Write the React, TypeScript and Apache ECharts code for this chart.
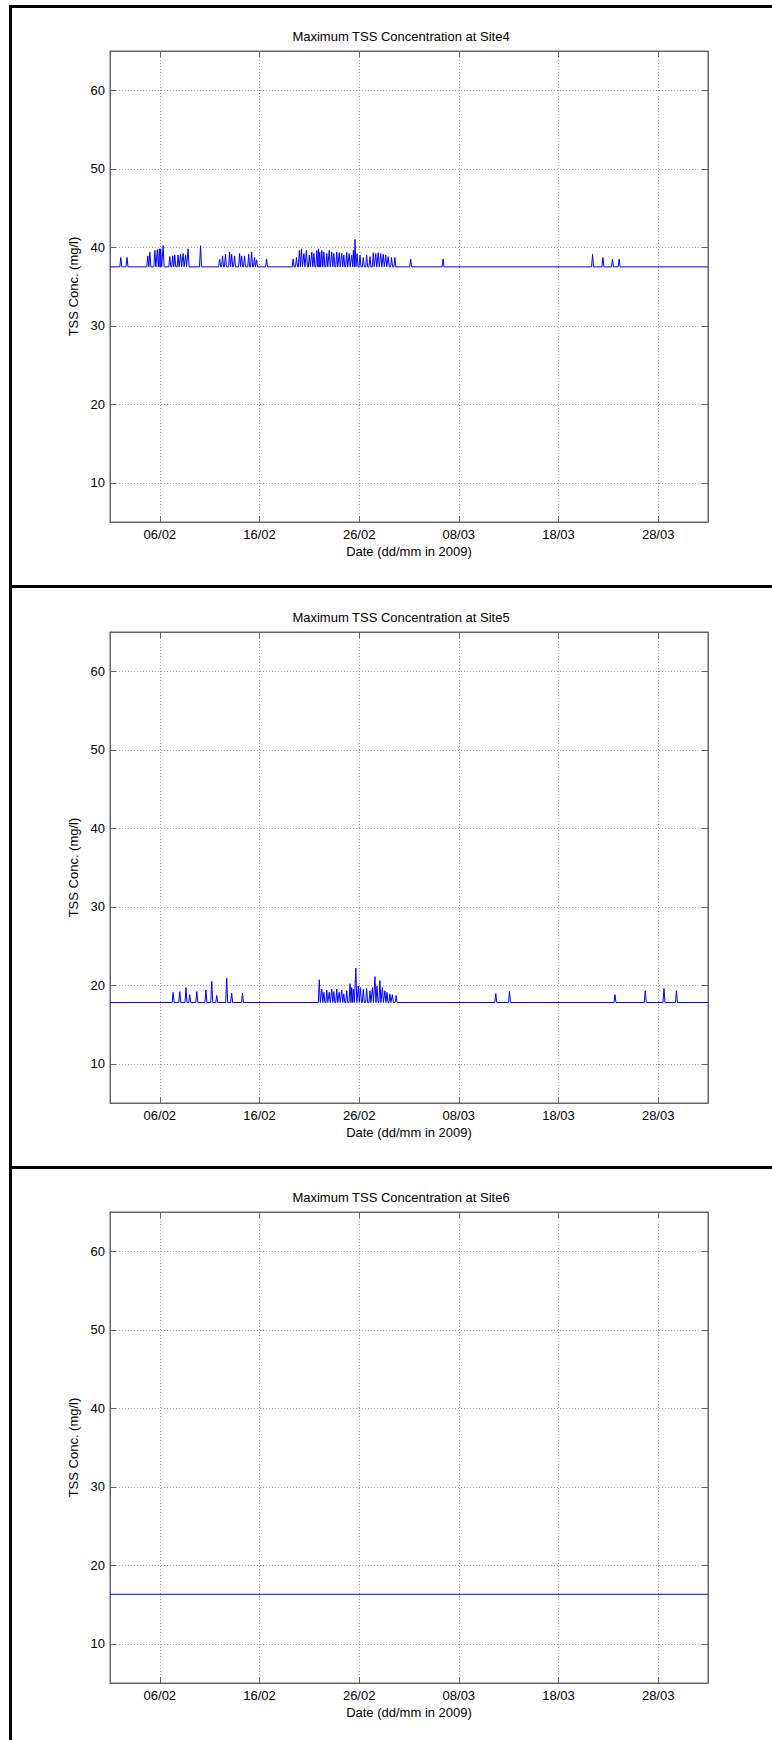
import React, { useEffect, useRef } from "react";
import * as echarts from "echarts";

// x values are days since 01/02/2009 00:00 (axis runs to 02/04/2009)
const X_MIN = 0;
const X_MAX = 60;
const Y_MIN = 5;
const Y_MAX = 65;
const xTickDays = [5, 15, 25, 35, 45, 55];
const xTickLabels = ["06/02", "16/02", "26/02", "08/03", "18/03", "28/03"];
const yTicks = [10, 20, 30, 40, 50, 60];

const titles = [
  "Maximum TSS Concentration at Site4",
  "Maximum TSS Concentration at Site5",
  "Maximum TSS Concentration at Site6",
];
const xAxisName = "Date (dd/mm in 2009)";
const yAxisName = "TSS Conc. (mg/l)";

const baseLevels = [37.5, 17.8, 16.3];

// spike times "dd/mm hh" and peak concentrations
const site4SpikeTimes = [
  "02/02 02", "02/02 17", "04/02 19", "05/02 00", "05/02 12", "05/02 18", "05/02 23", "06/02 02", "06/02 08",
  "07/02 00", "07/02 07", "07/02 12", "07/02 20", "08/02 02", "08/02 08", "08/02 14", "08/02 20", "10/02 02",
  "12/02 00", "12/02 07", "12/02 14", "13/02 00", "13/02 05", "13/02 12", "14/02 00", "14/02 05", "14/02 12",
  "14/02 22", "15/02 05", "15/02 12", "15/02 17", "16/02 17",
  "19/02 09", "19/02 17", "20/02 00", "20/02 05", "20/02 11", "20/02 17", "21/02 00", "21/02 06", "21/02 11",
  "21/02 18", "21/02 22", "22/02 01", "22/02 06", "22/02 11", "22/02 18", "23/02 00", "23/02 06", "23/02 11",
  "23/02 18", "24/02 00", "24/02 06", "24/02 11", "24/02 18", "25/02 00", "25/02 06", "25/02 10", "25/02 14",
  "25/02 19", "26/02 02", "26/02 10", "26/02 18", "27/02 02", "27/02 10", "27/02 16", "27/02 22", "28/02 04",
  "28/02 10", "28/02 16", "28/02 22", "01/03 06", "01/03 14",
  "03/03 04", "06/03 10", "21/03 10", "22/03 11", "23/03 10", "24/03 02",
];
const site4SpikePeaks = [
  38.7, 38.7, 38.9, 39.4, 39.6, 39.7, 39.8, 39.8, 40.2,
  38.8, 38.9, 39.0, 39.0, 39.1, 39.2, 39.0, 39.8, 40.2,
  38.5, 38.9, 39.1, 39.4, 39.1, 38.9, 39.2, 38.9, 38.9,
  39.1, 39.4, 38.7, 38.4, 38.5,
  38.5, 38.7, 39.6, 39.8, 39.2, 39.6, 39.0, 39.4, 39.2,
  39.6, 39.8, 39.4, 39.6, 39.4, 39.2, 39.6, 39.4, 39.2,
  39.4, 39.3, 39.2, 39.0, 39.4, 39.2, 39.0, 39.6, 41.0,
  39.2, 39.0, 38.7, 39.0, 38.8, 39.3, 39.2, 39.3, 39.2,
  39.1, 39.0, 38.8, 38.7, 38.7,
  38.5, 38.5, 39.1, 38.7, 38.5, 38.5,
];

const site5SpikeTimes = [
  "07/02 08", "08/02 00", "08/02 15", "09/02 00", "09/02 17", "10/02 15", "11/02 05", "11/02 17", "12/02 17",
  "13/02 05", "14/02 07",
  "22/02 00", "22/02 06", "22/02 11", "22/02 18", "23/02 00", "23/02 06", "23/02 11", "23/02 18", "24/02 00",
  "24/02 06", "24/02 11", "24/02 18", "25/02 02", "25/02 06", "25/02 10", "25/02 16", "25/02 22", "26/02 03",
  "26/02 10", "26/02 18", "27/02 02", "27/02 08", "27/02 14", "27/02 19", "28/02 02", "28/02 08", "28/02 14",
  "28/02 19", "01/03 02", "01/03 08", "01/03 17",
  "11/03 17", "13/03 02", "23/03 16", "26/03 17", "28/03 14", "29/03 20",
];
const site5SpikePeaks = [
  19.1, 19.2, 19.7, 18.8, 19.2, 19.4, 20.5, 18.7, 20.9,
  19.0, 19.0,
  20.7, 19.5, 19.1, 19.4, 19.1, 19.5, 19.2, 19.5, 19.1,
  19.4, 18.9, 19.3, 20.2, 19.7, 19.5, 22.2, 19.9, 19.7,
  19.5, 19.6, 19.3, 19.7, 21.1, 19.9, 20.6, 19.7, 19.3,
  19.1, 18.9, 18.8, 18.7,
  18.95, 19.2, 18.8, 19.3, 19.6, 19.3,
];

const site6SpikeTimes: string[] = [];
const site6SpikePeaks: number[] = [];

const spikeTimes = [site4SpikeTimes, site5SpikeTimes, site6SpikeTimes];
const spikePeaks = [site4SpikePeaks, site5SpikePeaks, site6SpikePeaks];

const SPIKE_HALF_WIDTH = 0.1; // days
const FONT = "'Liberation Sans', Arial, Helvetica, sans-serif";
const AXIS_COLOR = "#666666";
const GRID_COLOR = "#a0a0a0";
const LINE_COLOR = "#0000ff";
const PANEL_OFFSETS = [0, 581, 1161];

function parseTime(s: string): number {
  const [dm, hh] = s.split(" ");
  const [d, m] = dm.split("/").map(Number);
  const dayIndex = m === 2 ? d - 1 : 28 + d - 1;
  return dayIndex + Number(hh) / 24;
}

function buildData(base: number, times: string[], peaks: number[]): number[][] {
  const pts: number[][] = [[X_MIN, base]];
  times.forEach((t, i) => {
    const x = parseTime(t);
    pts.push([x - SPIKE_HALF_WIDTH, base], [x, peaks[i]], [x + SPIKE_HALF_WIDTH, base]);
  });
  pts.push([X_MAX, base]);
  return pts;
}

function xLabel(v: number): string {
  const i = xTickDays.indexOf(Math.round(v));
  return i >= 0 ? xTickLabels[i] : "";
}

export default function App() {
  const ref = useRef<HTMLDivElement>(null);

  useEffect(() => {
    if (!ref.current) return;
    const chart = echarts.init(ref.current, undefined, { renderer: "svg" });

    const grids: any[] = [];
    const xAxes: any[] = [];
    const yAxes: any[] = [];
    const series: any[] = [];
    const graphics: any[] = [];

    PANEL_OFFSETS.forEach((off, i) => {
      grids.push({
        left: 110,
        top: 51 + off,
        width: 598,
        height: 471,
        show: true,
        borderColor: AXIS_COLOR,
        borderWidth: 1,
        backgroundColor: "transparent",
      });
      xAxes.push({
        gridIndex: i,
        type: "value",
        min: X_MIN,
        max: X_MAX,
        position: "bottom",
        axisLine: { show: true, onZero: false, lineStyle: { color: AXIS_COLOR, width: 1 } },
        axisTick: { show: true, inside: true, length: 6, customValues: xTickDays, lineStyle: { color: AXIS_COLOR } },
        axisLabel: {
          customValues: xTickDays,
          formatter: xLabel,
          margin: 6,
          fontSize: 13,
          color: "#000",
          fontFamily: FONT,
        },
        splitLine: { show: true, lineStyle: { type: [1, 2], color: GRID_COLOR, width: 1 } },
        name: xAxisName,
        nameLocation: "middle",
        nameGap: 23,
        nameTextStyle: { fontSize: 13, color: "#000", fontFamily: FONT },
      });
      xAxes.push({
        gridIndex: i,
        type: "value",
        min: X_MIN,
        max: X_MAX,
        position: "top",
        axisLine: { show: true, onZero: false, lineStyle: { color: AXIS_COLOR, width: 1 } },
        axisTick: { show: true, inside: true, length: 6, customValues: xTickDays, lineStyle: { color: AXIS_COLOR } },
        axisLabel: { show: false },
        splitLine: { show: false },
      });
      yAxes.push({
        gridIndex: i,
        type: "value",
        min: Y_MIN,
        max: Y_MAX,
        position: "left",
        axisLine: { show: true, onZero: false, lineStyle: { color: AXIS_COLOR, width: 1 } },
        axisTick: { show: true, inside: true, length: 6, customValues: yTicks, lineStyle: { color: AXIS_COLOR } },
        axisLabel: {
          customValues: yTicks,
          margin: 5,
          fontSize: 13,
          color: "#000",
          fontFamily: FONT,
        },
        splitLine: { show: true, lineStyle: { type: [1, 2], color: GRID_COLOR, width: 1 } },
        name: yAxisName,
        nameLocation: "middle",
        nameGap: 25,
        nameTextStyle: { fontSize: 13, color: "#000", fontFamily: FONT },
      });
      yAxes.push({
        gridIndex: i,
        type: "value",
        min: Y_MIN,
        max: Y_MAX,
        position: "right",
        axisLine: { show: true, onZero: false, lineStyle: { color: AXIS_COLOR, width: 1 } },
        axisTick: { show: true, inside: true, length: 6, customValues: yTicks, lineStyle: { color: AXIS_COLOR } },
        axisLabel: { show: false },
        splitLine: { show: false },
      });
      series.push({
        type: "line",
        xAxisIndex: 2 * i,
        yAxisIndex: 2 * i,
        data: buildData(baseLevels[i], spikeTimes[i], spikePeaks[i]),
        showSymbol: false,
        symbol: "none",
        silent: true,
        lineStyle: { color: LINE_COLOR, width: 1 },
        z: 5,
      });
      graphics.push({
        type: "text",
        x: 401,
        y: 36 + off,
        style: {
          text: titles[i],
          textAlign: "center",
          textVerticalAlign: "middle",
          fontSize: 13,
          fontFamily: FONT,
          fill: "#000",
        },
      });
    });

    // panel frame lines
    graphics.push(
      { type: "rect", shape: { x: 9, y: 5, width: 3, height: 1735 }, style: { fill: "#000" } },
      { type: "rect", shape: { x: 9, y: 5, width: 763, height: 3 }, style: { fill: "#000" } },
      { type: "rect", shape: { x: 9, y: 585, width: 763, height: 3 }, style: { fill: "#000" } },
      { type: "rect", shape: { x: 9, y: 1166, width: 763, height: 3 }, style: { fill: "#000" } }
    );

    chart.setOption({
      animation: false,
      backgroundColor: "#ffffff",
      grid: grids,
      xAxis: xAxes,
      yAxis: yAxes,
      series,
      graphic: graphics,
    });

    return () => chart.dispose();
  }, []);

  return (
    <div
      ref={ref}
      style={{ position: "absolute", left: 0, top: 0, width: 772, height: 1740, background: "#fff" }}
    />
  );
}
